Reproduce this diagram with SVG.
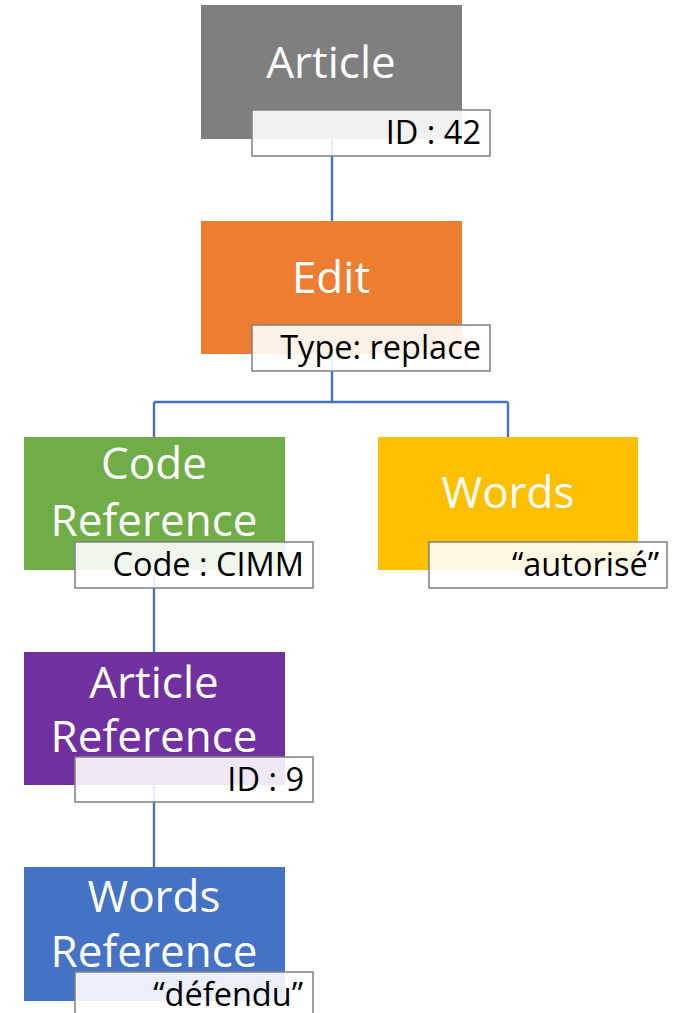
<svg xmlns="http://www.w3.org/2000/svg" width="674" height="1013" viewBox="0 0 674 1013">
<style>
.t{font-family:"Open Sans","Liberation Sans",sans-serif;font-size:44px;fill:#fff;text-anchor:middle}
.l{font-family:"Open Sans","Liberation Sans",sans-serif;font-size:32.5px;fill:#000;text-anchor:end}
.lb{fill:#fff;fill-opacity:0.89;stroke:#808080;stroke-width:1.5}
.c{fill:none;stroke:#4472C4;stroke-width:2.4}
</style>
<rect width="674" height="1013" fill="#fff"/>
<g id="connectors">
<path class="c" d="M332 139V221"/>
<path class="c" d="M332 354V402M154 402H508M154 402V437M508 402V437"/>
<path class="c" d="M154 570V652"/>
<path class="c" d="M154 785V867"/>
</g>
<g id="article">
<rect x="201" y="5" width="261" height="134" fill="#7F7F7F"/>
<text class="t" x="331" y="78">Article</text>
<rect class="lb" x="252" y="110" width="238" height="46"/>
<text class="l" x="481" y="144">ID : 42</text>
</g>
<g id="edit">
<rect x="201" y="221" width="261" height="133" fill="#ED7D31"/>
<text class="t" x="331" y="293">Edit</text>
<rect class="lb" x="252" y="325" width="238" height="46"/>
<text class="l" x="481" y="359">Type: replace</text>
</g>
<g id="code-reference">
<rect x="24" y="437" width="261" height="133" fill="#70AD47"/>
<text class="t" x="154" y="479">Code</text>
<text class="t" x="154" y="536">Reference</text>
<rect class="lb" x="75" y="542" width="238" height="46"/>
<text class="l" x="304" y="576">Code : CIMM</text>
</g>
<g id="words">
<rect x="378" y="437" width="260" height="133" fill="#FFC000"/>
<text class="t" x="508" y="508">Words</text>
<rect class="lb" x="429" y="542" width="238" height="46"/>
<text class="l" x="659" y="576">“autorisé”</text>
</g>
<g id="article-reference">
<rect x="24" y="652" width="261" height="133" fill="#7030A0"/>
<text class="t" x="154" y="698">Article</text>
<text class="t" x="154" y="752">Reference</text>
<rect class="lb" x="75" y="757" width="238" height="45"/>
<text class="l" x="304" y="791">ID : 9</text>
</g>
<g id="words-reference">
<rect x="24" y="867" width="261" height="134" fill="#4472C4"/>
<text class="t" x="154" y="912">Words</text>
<text class="t" x="154" y="967">Reference</text>
<rect class="lb" x="75" y="972" width="238" height="46"/>
<text class="l" x="303" y="1006">“défendu”</text>
</g>
</svg>
